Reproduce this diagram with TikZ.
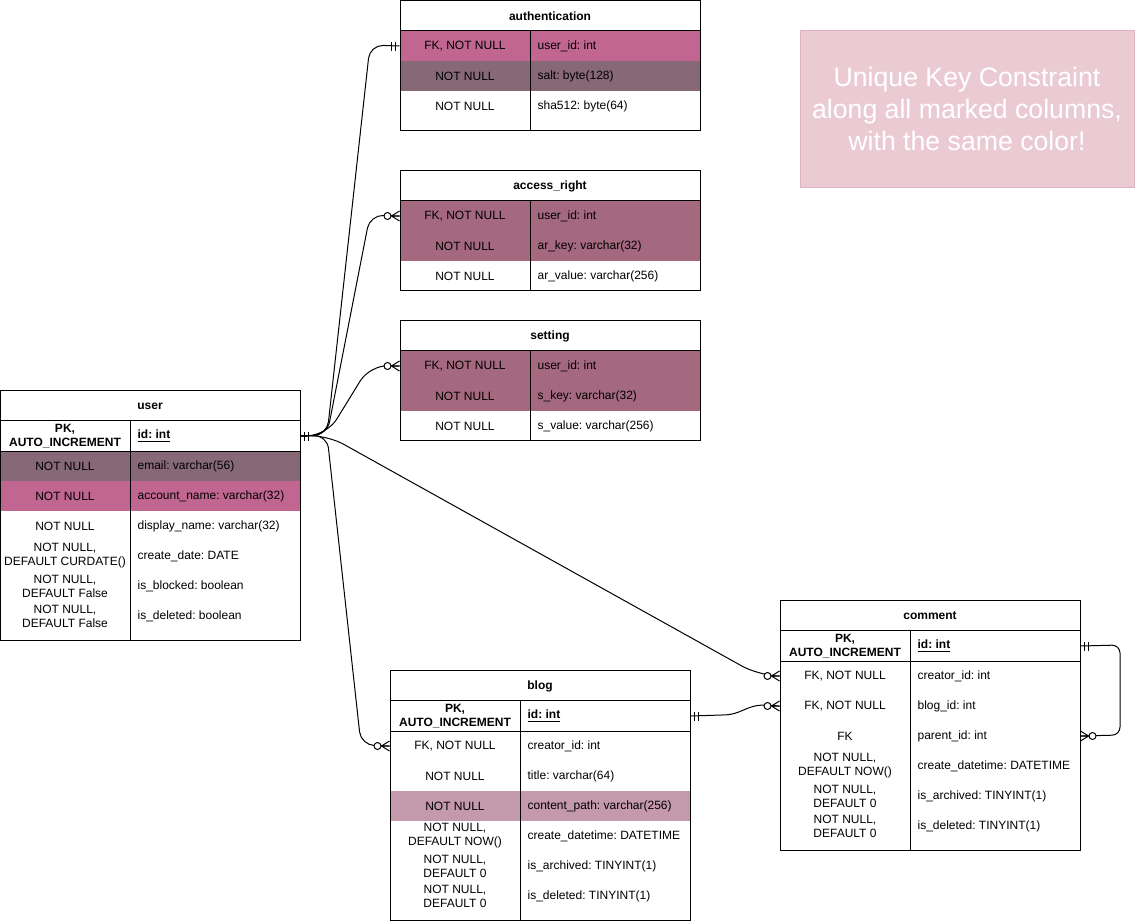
\documentclass[tikz,border=0pt]{standalone}
\usepackage{fontspec}
\setmainfont{Liberation Sans}
\usetikzlibrary{calc}
\frenchspacing

\definecolor{ukpink}{HTML}{C16690}
\definecolor{ukdark}{HTML}{876877}
\definecolor{ukmauve}{HTML}{A4687F}
\definecolor{uklight}{HTML}{C499AC}
\definecolor{notefill}{HTML}{EBCBD3}
\definecolor{noteline}{HTML}{DCB3BA}

\tikzset{%
tablehead/.style={yshift=-0.75pt,font=\fontsize{9pt}{10.5pt}\selectfont\bfseries},
keycell/.style={minimum width=97.5pt,minimum height=22.5pt,inner sep=0pt,align=center,
  yshift=-0.75pt,font=\fontsize{9pt}{10.5pt}\selectfont},
valcell/.style={minimum width=127.5pt,minimum height=22.5pt,inner ysep=0pt,inner xsep=5.7pt,
  text width=116.1pt,align=flush left,yshift=-0.75pt,font=\fontsize{9pt}{10.5pt}\selectfont},
notebox/.style={draw=noteline,fill=notefill,text=white,minimum width=250.5pt,minimum height=117.75pt,
  align=center,font=\fontsize{20pt}{24pt}\selectfont},
}
\tikzset{%
pics/.cd,
erframe/.style args={#1#2#3}{
  code={\node[tablehead] (#1) at (150,15) {#2};
       \draw (0,0) rectangle (300,#3);
       \draw (0,30) -- (300,30) (130,30) -- (130,#3);
  }
},
%pics/.cd,
onemark/.style={
  code={\draw (-4,-4.5) -- (-4,4.5) (-8,-4.5) -- (-8,4.5);
  }
},
%pics/.cd,
manymark/.style={
  code={\draw (0,-5) -- (-8,0) -- (0,5) (-8,0) -- (0,0);
       \draw[fill=white] (-12,0) circle[radius=3.5];
  }
},
}

\begin{document}
\begin{tikzpicture}[x=0.75pt,y=-0.75pt,line width=0.75pt]
  \useasboundingbox (0,0) rectangle (1135,921);

  % unique key rows
  \foreach \k/\v/\c [count=\i] in {{FK, NOT NULL}/user\_id: int/ukpink,
      NOT NULL/salt: byte(128)/ukdark, NOT NULL/sha512: byte(64)/white}{
    \node[keycell,fill=\c] (auth-k\i) at (465,15+30*\i) {\k};
    \node[valcell,fill=\c] (auth-v\i) at (615,15+30*\i) {\v};
  }
  \foreach \k/\v/\c [count=\i] in {{FK, NOT NULL}/user\_id: int/ukmauve,
      NOT NULL/ar\_key: varchar(32)/ukmauve, NOT NULL/ar\_value: varchar(256)/white}{
    \node[keycell,fill=\c] (acc-k\i) at (465,185+30*\i) {\k};
    \node[valcell,fill=\c] (acc-v\i) at (615,185+30*\i) {\v};
  }
  \foreach \k/\v/\c [count=\i] in {{FK, NOT NULL}/user\_id: int/ukmauve,
      NOT NULL/s\_key: varchar(32)/ukmauve, NOT NULL/s\_value: varchar(256)/white}{
    \node[keycell,fill=\c] (set-k\i) at (465,335+30*\i) {\k};
    \node[valcell,fill=\c] (set-v\i) at (615,335+30*\i) {\v};
  }
  \foreach \k/\v/\c [count=\i] in {{\textbf{PK,}\\\textbf{AUTO\_INCREMENT}}/\underline{\textbf{id: int}}/white,
      NOT NULL/email: varchar(56)/ukdark, NOT NULL/account\_name: varchar(32)/ukpink,
      NOT NULL/display\_name: varchar(32)/white,
      {NOT NULL,\\DEFAULT CURDATE()}/create\_date: DATE/white,
      {NOT NULL,\\DEFAULT False}/is\_blocked: boolean/white,
      {NOT NULL,\\DEFAULT False}/is\_deleted: boolean/white}{
    \node[keycell,fill=\c] (user-k\i) at (65,405+30*\i) {\k};
    \node[valcell,fill=\c] (user-v\i) at (215,405+30*\i) {\v};
  }
  \foreach \k/\v/\c [count=\i] in {{\textbf{PK,}\\\textbf{AUTO\_INCREMENT}}/\underline{\textbf{id: int}}/white,
      {FK, NOT NULL}/creator\_id: int/white, NOT NULL/title: varchar(64)/white,
      NOT NULL/content\_path: varchar(256)/uklight,
      {NOT NULL,\\DEFAULT NOW()}/create\_datetime: DATETIME/white,
      {NOT NULL,\\DEFAULT 0}/is\_archived: TINYINT(1)/white,
      {NOT NULL,\\DEFAULT 0}/is\_deleted: TINYINT(1)/white}{
    \node[keycell,fill=\c] (blog-k\i) at (455,685+30*\i) {\k};
    \node[valcell,fill=\c] (blog-v\i) at (605,685+30*\i) {\v};
  }
  \foreach \k/\v [count=\i] in {{\textbf{PK,}\\\textbf{AUTO\_INCREMENT}}/\underline{\textbf{id: int}},
      {FK, NOT NULL}/creator\_id: int, {FK, NOT NULL}/blog\_id: int, FK/parent\_id: int,
      {NOT NULL,\\DEFAULT NOW()}/create\_datetime: DATETIME,
      {NOT NULL,\\DEFAULT 0}/is\_archived: TINYINT(1),
      {NOT NULL,\\DEFAULT 0}/is\_deleted: TINYINT(1)}{
    \node[keycell] (com-k\i) at (845,615+30*\i) {\k};
    \node[valcell] (com-v\i) at (995,615+30*\i) {\v};
  }

  % table frames
  \pic at (400,0) {erframe={auth}{authentication}{130}};
  \pic at (400,170) {erframe={acc}{access\_right}{120}};
  \pic at (400,320) {erframe={set}{setting}{120}};
  \pic at (0,390) {erframe={user}{user}{250}};
  \pic at (390,670) {erframe={blog}{blog}{250}};
  \pic at (780,600) {erframe={com}{comment}{250}};
  \draw (user-k1.south west) -- (user-v1.south east);
  \draw (blog-k1.south west) -- (blog-v1.south east);
  \draw (com-k1.south west) -- (com-v1.south east);

  \node[notebox] (note) at (967,108.5) {Unique Key Constraint\\along all marked columns,\\with the same color!};

  % relations
  \coordinate (hub) at (327,435);
  \draw[rounded corners=10] (user-v1.east) -- (hub) -- (370,45) -- (auth-k1.west);
  \draw[rounded corners=10] (user-v1.east) -- (hub) -- (370,215) -- (acc-k1.west);
  \draw[rounded corners=14] (user-v1.east) -- (hub) -- (370,365) -- (set-k1.west);
  \draw[rounded corners=10] (user-v1.east) -- (hub) -- (361,745) -- (blog-k2.west);
  \draw[rounded corners=14] (user-v1.east) -- (hub) -- (758,675) -- (com-k2.west);
  \draw (blog-v1.east) -- (722,715) .. controls (742,715) and (745,705) .. (765,705) -- (com-k3.west);
  \draw[rounded corners=6] (com-v1.east) -- (1120,645) -- (1120,735) -- (com-v4.east);

  \pic[rotate=180] at (user-v1.east) {onemark};
  \pic at (auth-k1.west) {onemark};
  \pic at (acc-k1.west) {manymark};
  \pic at (set-k1.west) {manymark};
  \pic at (blog-k2.west) {manymark};
  \pic at (com-k2.west) {manymark};
  \pic at (com-k3.west) {manymark};
  \pic[rotate=180] at (blog-v1.east) {onemark};
  \pic[rotate=180] at (com-v1.east) {onemark};
  \pic[rotate=180] at (com-v4.east) {manymark};
\end{tikzpicture}
\end{document}
